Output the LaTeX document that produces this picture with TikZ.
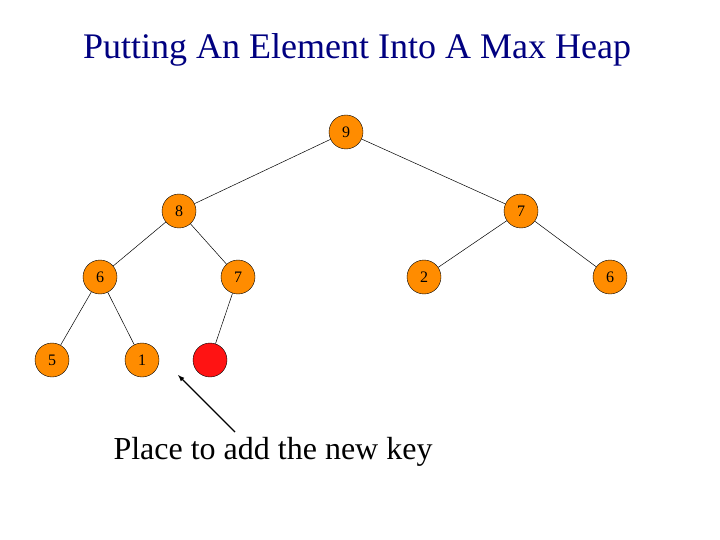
\documentclass[tikz,border=0pt]{standalone}
\usepackage{fontspec}
\setmainfont{Liberation Serif}
\begin{document}
\begin{tikzpicture}[x=1pt,y=-1pt,
  hn/.style={circle,draw=black,fill=orange!90!yellow,minimum size=34pt,inner sep=0pt,font=\fontsize{16}{16}\selectfont},
  rn/.style={hn,fill=red!90!pink},
  ed/.style={draw=black,line width=0.5pt}]
\path[use as bounding box] (0,0) rectangle (720,540);
\node[text={rgb,255:red,0;green,0;blue,128},font=\fontsize{36}{38}\selectfont] (t) at (357,50) {Putting An Element Into A Max Heap};
\node[hn] (n9) at (346,132) {9};
\node[hn] (n8) at (179,211) {8};
\node[hn] (n7) at (521,211) {7};
\node[hn] (a6) at (100,277) {6};
\node[hn] (a7) at (238,277) {7};
\node[hn] (a2) at (424,277) {2};
\node[hn] (b6) at (610,277) {6};
\node[hn] (a5) at (52,360) {5};
\node[hn] (a1) at (142,360) {1};
\node[rn] (nn) at (210,360) {};
\draw[ed] (n9)--(n8); \draw[ed] (n9)--(n7);
\draw[ed] (n8)--(a6); \draw[ed] (n8)--(a7);
\draw[ed] (n7)--(a2); \draw[ed] (n7)--(b6);
\draw[ed] (a6)--(a5); \draw[ed] (a6)--(a1);
\draw[ed] (a7)--(nn);
\node[font=\fontsize{32}{34}\selectfont] (lb) at (273,452) {Place to add the new key};
\coordinate (s) at (235,432);
\coordinate (e) at (178,375);
\draw[line width=1.2pt,-latex] (s)--(e);
\end{tikzpicture}
\end{document}
